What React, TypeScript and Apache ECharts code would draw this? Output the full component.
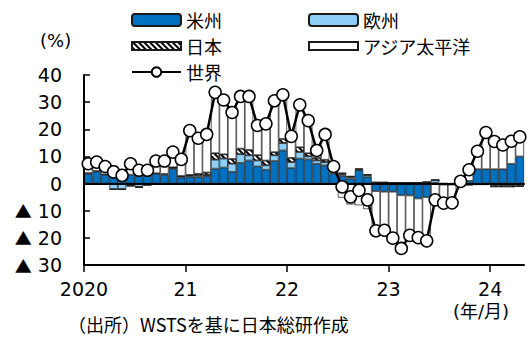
import React, { useEffect, useRef } from 'react';
import * as echarts from 'echarts';

// Year tick labels (placed at January boundaries)
const yearLabels = ['2020', '21', '22', '23', '24'];
const firstYear = 2020;

// Contribution to world semiconductor sales growth (% yoy), Jan 2020 - Apr 2024
const americas = [
  3.5, 4.4, 3.2, 2.5, 2.4, 3.3, 2.8, 2.8, 3.6, 3.2, 5.4, 2.2,
  2.4, 2.4, 2.7, 5.5, 5.9, 4.3, 7.6, 8.5, 6.3, 5.1, 8.3, 12.2,
  5.7, 9.2, 8.9, 7.3, 6.7, 3.7, 2.8, 1.8, 4.9, 2.4, -2.8, -3.0,
  -3.0, -4.3, -4.4, -5.5, -5.0, 0.3, -0.2, -0.1, -0.3, 1.0, 5.3, 5.3,
  5.3, 5.3, 7.3, 10.0,
];
const europe = [
  0.4, 0.3, 0.2, -2.0, -2.0, -0.7, -1.2, -0.3, 0.2, 0.4, 0.4, 0.4,
  0.5, 0.6, 0.4, 3.3, 3.3, 3.0, 3.2, 1.9, 2.2, 1.6, 2.1, 2.7,
  2.2, 2.4, 1.1, 1.2, 1.2, 0.6, 0.6, 0.6, 0.3, 0.7, 0.4, 0.4,
  0.3, 0.3, 0.3, 0.3, 0.5, 1.0, 0.2, 0.1, -0.2, -0.3, -0.2, -0.2,
  -0.7, -0.7, -0.7, -0.7,
];
const japan = [
  -0.3, -0.3, -0.3, -0.3, -0.3, -0.3, -0.3, -0.4, -0.4, -0.2, 0.2, 0.2,
  0.3, 0.6, 1.0, 2.4, 1.6, 1.8, 2.1, 2.0, 2.0, 1.8, 1.2, 1.6,
  1.6, 1.8, 1.2, 1.0, 0.9, 0.6, 0.6, 0.4, 0.3, 0.3, 0.1, 0.1,
  0.1, 0.1, 0.1, 0.1, 0.1, 0.0, -0.2, -0.3, -0.2, -0.3, -0.3, -0.3,
  -0.6, -0.6, -0.6, -0.5,
];
const asiaPacific = [
  3.7, 3.5, 3.2, 4.1, 2.9, 5.0, 3.6, 2.8, 4.9, 4.9, 5.6, 6.1,
  16.3, 13.1, 14.0, 22.4, 20.0, 17.1, 19.2, 19.7, 10.9, 13.5, 18.9, 16.2,
  7.9, 15.6, 12.0, 2.7, 9.3, 1.4, -5.2, -7.7, -8.0, -9.4, -15.1, -14.7,
  -17.5, -20.0, -15.1, -14.8, -16.7, -7.3, -7.0, -6.8, 1.5, 4.7, 7.1, 14.0,
  11.5, 10.2, 9.6, 8.4,
];
const world = [
  7.3, 7.9, 6.3, 4.3, 3.0, 7.3, 4.9, 4.9, 8.3, 8.3, 11.6, 8.9,
  19.5, 16.7, 18.1, 33.6, 30.8, 26.2, 32.1, 32.1, 21.4, 22.0, 30.5, 32.7,
  17.4, 29.0, 23.2, 12.2, 18.1, 6.3, -1.2, -4.9, -2.5, -6.0, -17.4, -17.2,
  -20.1, -23.9, -19.1, -19.9, -21.1, -6.0, -7.2, -7.1, 0.8, 5.1, 11.9, 18.8,
  15.5, 14.2, 15.6, 17.2,
];

const seriesNames = ['米州', '欧州', '日本', 'アジア太平洋', '世界'];

const JP = "'Noto Sans CJK JP', sans-serif";
const NUM = "'DejaVu Sans', 'Noto Sans CJK JP', sans-serif";

export default function App() {
  const ref = useRef<HTMLDivElement>(null);

  useEffect(() => {
    if (!ref.current) return;
    const chart = echarts.init(ref.current, null, { renderer: 'svg' });

    const months = americas.map(
      (_, i) => `${firstYear + Math.floor(i / 12)}/${(i % 12) + 1}`
    );
    const yearStarts = yearLabels.map((_, k) => k * 12);

    const barBase = {
      type: 'bar' as const,
      stack: 'total',
      xAxisIndex: 0,
      yAxisIndex: 0,
      barCategoryGap: '0%',
      z: 2,
    };

    const legendText = { fontFamily: JP, fontSize: 18, color: '#000' };

    const option: any = {
      animation: false,
      backgroundColor: '#fff',
      textStyle: { fontFamily: JP, color: '#000' },
      grid: { left: 84, right: 5, top: 75, bottom: 84, containLabel: false, outerBoundsMode: 'none' },
      legend: [
        {
          data: [
            { name: seriesNames[0] },
            { name: seriesNames[2], icon: 'path://M0 0h49v8H0z' },
            { name: seriesNames[4] },
          ],
          orient: 'vertical',
          left: 126,
          top: 6,
          itemWidth: 49,
          itemHeight: 12,
          itemGap: 8,
          textStyle: legendText,
        },
        {
          data: [
            { name: seriesNames[1] },
            { name: seriesNames[3], icon: 'path://M0 0h49v8H0z' },
          ],
          orient: 'vertical',
          left: 303,
          top: 6,
          itemWidth: 49,
          itemHeight: 12,
          itemGap: 8,
          textStyle: legendText,
        },
      ],
      xAxis: [
        {
          type: 'category',
          data: months,
          position: 'bottom',
          boundaryGap: true,
          z: 5,
          axisLine: { show: true, onZero: true, lineStyle: { color: '#000', width: 2 } },
          axisTick: { show: false },
          axisLabel: { show: false },
          splitLine: { show: false },
        },
        {
          type: 'value',
          min: 0,
          max: months.length,
          position: 'bottom',
          z: 6,
          axisLine: { show: true, onZero: false, lineStyle: { color: '#000', width: 2 } },
          axisTick: {
            show: true,
            inside: false,
            length: 7,
            customValues: yearStarts,
            lineStyle: { color: '#000', width: 1.5 },
          },
          axisLabel: {
            show: true,
            inside: false,
            customValues: yearStarts,
            margin: 14,
            fontFamily: NUM,
            fontSize: 19,
            color: '#000',
            formatter: (v: number) => yearLabels[Math.round(v / 12)] ?? '',
          },
          splitLine: { show: false },
        },
      ],
      yAxis: {
        type: 'value',
        min: -30,
        max: 40,
        interval: 10,
        z: 5,
        axisLine: { show: true, onZero: false, lineStyle: { color: '#000', width: 2 } },
        axisTick: { show: true, inside: true, length: 6, lineStyle: { color: '#000', width: 1.5 } },
        splitLine: { show: false },
        axisLabel: {
          margin: 22,
          fontFamily: NUM,
          fontSize: 19,
          color: '#000',
          formatter: (v: number) => (v < 0 ? `{m|▲} ${-v}` : `${v}`),
          rich: {
            m: { fontFamily: JP, fontSize: 17, color: '#000' },
          },
        },
      },
      graphic: [
        {
          type: 'text',
          left: 40,
          top: 31,
          style: { text: '(%)', font: `18px ${NUM}`, fill: '#000' },
        },
        {
          type: 'text',
          left: 453,
          top: 302,
          style: { text: '(年/月)', font: `18px ${NUM}`, fill: '#000' },
        },
        {
          type: 'text',
          left: 68,
          top: 315,
          style: { text: '（出所）WSTSを基に日本総研作成', font: `18px ${JP}`, fill: '#000' },
        },
      ],
      series: [
        {
          ...barBase,
          name: seriesNames[0],
          data: americas,
          itemStyle: { color: '#0070C0', borderColor: '#1a1a1a', borderWidth: 0.7 },
        },
        {
          ...barBase,
          name: seriesNames[1],
          data: europe,
          itemStyle: { color: '#8ECFF8', borderColor: '#1a1a1a', borderWidth: 0.7 },
        },
        {
          ...barBase,
          name: seriesNames[2],
          data: japan,
          itemStyle: {
            color: '#fff',
            borderColor: '#1a1a1a',
            borderWidth: 0.7,
            decal: {
              symbol: 'rect',
              symbolSize: 1,
              color: '#000',
              dashArrayX: [1, 0],
              dashArrayY: [1.5, 1.5],
              rotation: Math.PI / 4,
            },
          },
        },
        {
          ...barBase,
          name: seriesNames[3],
          data: asiaPacific,
          itemStyle: { color: '#fff', borderColor: '#1a1a1a', borderWidth: 0.7 },
        },
        {
          type: 'line',
          name: seriesNames[4],
          xAxisIndex: 0,
          yAxisIndex: 0,
          data: world,
          z: 10,
          symbol: 'circle',
          symbolSize: 12,
          showSymbol: true,
          showAllSymbol: true,
          lineStyle: { color: '#000', width: 2.5 },
          itemStyle: { color: '#fff', borderColor: '#000', borderWidth: 1.5 },
        },
      ],
    };

    chart.setOption(option);
    return () => chart.dispose();
  }, []);

  return (
    <div
      ref={ref}
      style={{ position: 'fixed', left: 0, top: 0, width: 529, height: 349, background: '#fff' }}
    />
  );
}
